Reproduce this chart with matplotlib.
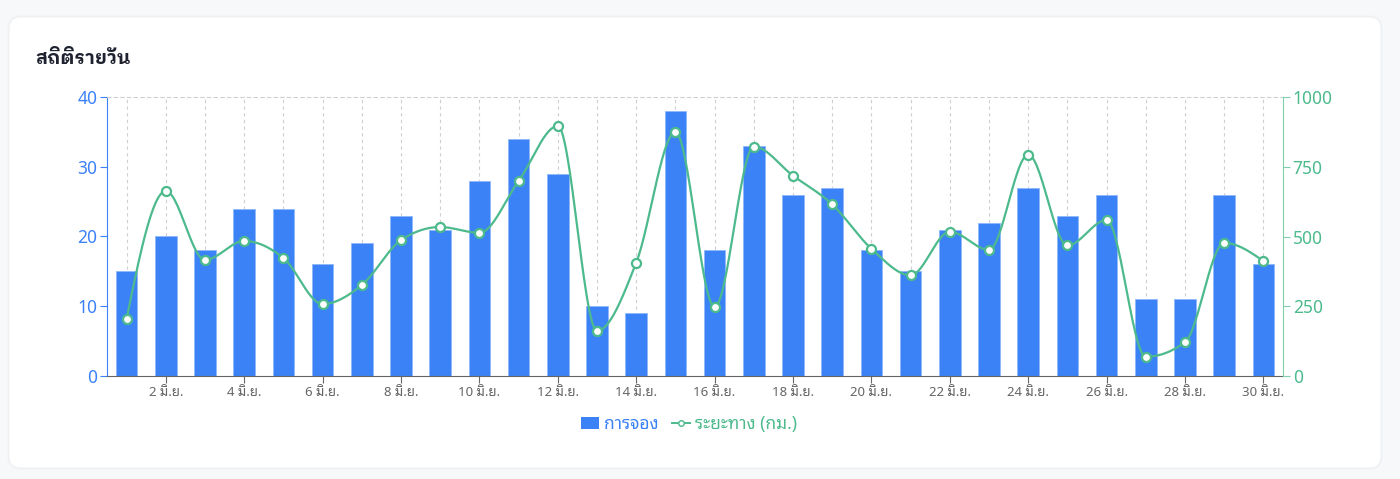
import numpy as np
import matplotlib
matplotlib.use("Agg")
import matplotlib.pyplot as plt
from matplotlib.patches import FancyBboxPatch, Patch
from matplotlib.lines import Line2D
import matplotlib.transforms as mtransforms

# data
days = list(range(1, 31))
bookings = [15, 20, 18, 24, 24, 16, 19, 23, 21, 28, 34, 29, 10, 9, 38,
            18, 33, 26, 27, 18, 15, 21, 22, 27, 23, 26, 11, 11, 26, 16]
distance = [205, 663, 416, 484, 423, 258, 326, 487, 534, 513, 699, 896, 162, 406, 875,
            247, 822, 718, 615, 456, 361, 517, 452, 793, 468, 559, 69, 121, 477, 412]
tick_days = list(range(2, 31, 2))
tick_labels = [f"{d} มิ.ย." for d in tick_days]
title = "สถิติรายวัน"
bar_label = "การจอง"
line_label = "ระยะทาง (กม.)"

BLUE = "#3b82f6"
GREEN = "#4cba8c"
GREEN_AX = "#7fd0ac"

plt.rcParams["font.family"] = ["Noto Sans Thai Looped", "Noto Sans", "DejaVu Sans"]


def monotone_x(x, y, n=30):
    # d3 curveMonotoneX
    x = np.asarray(x, float)
    y = np.asarray(y, float)
    h = np.diff(x)
    s = np.diff(y) / h
    t = np.zeros_like(y)
    for i in range(1, len(x) - 1):
        s0, s1 = s[i - 1], s[i]
        p = (s0 * h[i] + s1 * h[i - 1]) / (h[i - 1] + h[i])
        t[i] = (np.sign(s0) + np.sign(s1)) * min(abs(s0), abs(s1), 0.5 * abs(p))
    t[0] = (3 * s[0] - t[1]) / 2
    t[-1] = (3 * s[-1] - t[-2]) / 2
    xs, ys = [], []
    for i in range(len(x) - 1):
        u = np.linspace(0, 1, n, endpoint=(i == len(x) - 2))
        h00 = 2 * u**3 - 3 * u**2 + 1
        h10 = u**3 - 2 * u**2 + u
        h01 = -2 * u**3 + 3 * u**2
        h11 = u**3 - u**2
        xs.append(x[i] + u * h[i])
        ys.append(h00 * y[i] + h10 * h[i] * t[i] + h01 * y[i + 1] + h11 * h[i] * t[i + 1])
    return np.concatenate(xs), np.concatenate(ys)


fig = plt.figure(figsize=(14, 4.79), dpi=100)
fig.patch.set_facecolor("#f7f8fa")

# card with soft shadow
ident = mtransforms.IdentityTransform()
for k, a in [(2, 0.012), (1, 0.02)]:
    fig.patches.append(FancyBboxPatch((9 - k, 479 - 468 - k), 1372 + 2 * k, 451 + 2 * k,
                                      boxstyle="round,pad=0,rounding_size=14",
                                      transform=ident, facecolor="#000000", alpha=a,
                                      edgecolor="none", zorder=-3))
fig.patches.append(FancyBboxPatch((9, 479 - 468), 1372, 451,
                                  boxstyle="round,pad=0,rounding_size=12",
                                  transform=ident, facecolor="white",
                                  edgecolor="#eef0f3", linewidth=0.6, zorder=-2))

fig.text(35 / 1400, 1 - 59 / 479, title, fontsize=13.5, fontweight="bold",
         family=["IBM Plex Sans Thai Looped", "Noto Sans Thai", "DejaVu Sans"],
         color="#1f2330", va="center", ha="left")

ax = fig.add_axes([107 / 1400, 103 / 479, 1176 / 1400, 279 / 479])
ax.set_facecolor("none")
ax.bar(days, bookings, width=0.55, color=BLUE, edgecolor="#8fb8fa", linewidth=0.6,
       zorder=2)
ax.set_xlim(0.5, 30.5)
ax.set_ylim(0, 40)
ax.set_yticks([0, 10, 20, 30, 40])
ax.set_xticks(tick_days)
ax.set_xticklabels(tick_labels)
ax.set_xticks(days, minor=True)
ax.set_axisbelow(True)
ax.grid(which="both", axis="x", color="#cfcfcf", linestyle=(0, (3, 3)), linewidth=0.8)
ax.tick_params(axis="x", which="minor", length=0)
ax.tick_params(axis="x", which="major", length=5, color="#666666", labelcolor="#666666",
               labelsize=9.5, pad=2)
ax.tick_params(axis="y", length=5, color=BLUE, labelcolor=BLUE, labelsize=12.5, pad=2)
ax.spines["left"].set_color(BLUE)
ax.spines["bottom"].set_color("#666666")
ax.spines["right"].set_visible(False)
ax.spines["top"].set_color("#cfcfcf")
ax.spines["top"].set_linestyle((0, (3, 3)))
ax.spines["top"].set_linewidth(0.8)

ax2 = ax.twinx()
xs, ys = monotone_x(days, distance)
ax2.plot(xs, ys, color=GREEN, linewidth=1.6, zorder=3)
ax2.plot(days, distance, linestyle="none", marker="o", markersize=6.5,
         markerfacecolor="white", markeredgecolor=GREEN, markeredgewidth=1.6, zorder=4)
ax2.set_ylim(0, 1000)
ax2.set_yticks([0, 250, 500, 750, 1000])
ax2.tick_params(axis="y", length=5, color=GREEN_AX, labelcolor=GREEN, labelsize=12.5, pad=2)
for side in ["left", "top", "bottom"]:
    ax2.spines[side].set_visible(False)
ax2.spines["right"].set_color(GREEN_AX)

handles = [Patch(facecolor=BLUE, edgecolor="none"),
           Line2D([0], [0], color=GREEN, linewidth=1.4, marker="o", markersize=4,
                  markerfacecolor="white", markeredgecolor=GREEN)]
leg = fig.legend(handles, [bar_label, line_label], loc="center",
                 bbox_to_anchor=(689 / 1400, 1 - 424 / 479), ncol=2, frameon=False,
                 fontsize=12.5, handlelength=1.0, handletextpad=0.3, columnspacing=0.8)
leg.get_texts()[0].set_color(BLUE)
leg.get_texts()[1].set_color(GREEN)

fig.savefig("out.png", dpi=100, facecolor=fig.get_facecolor())
